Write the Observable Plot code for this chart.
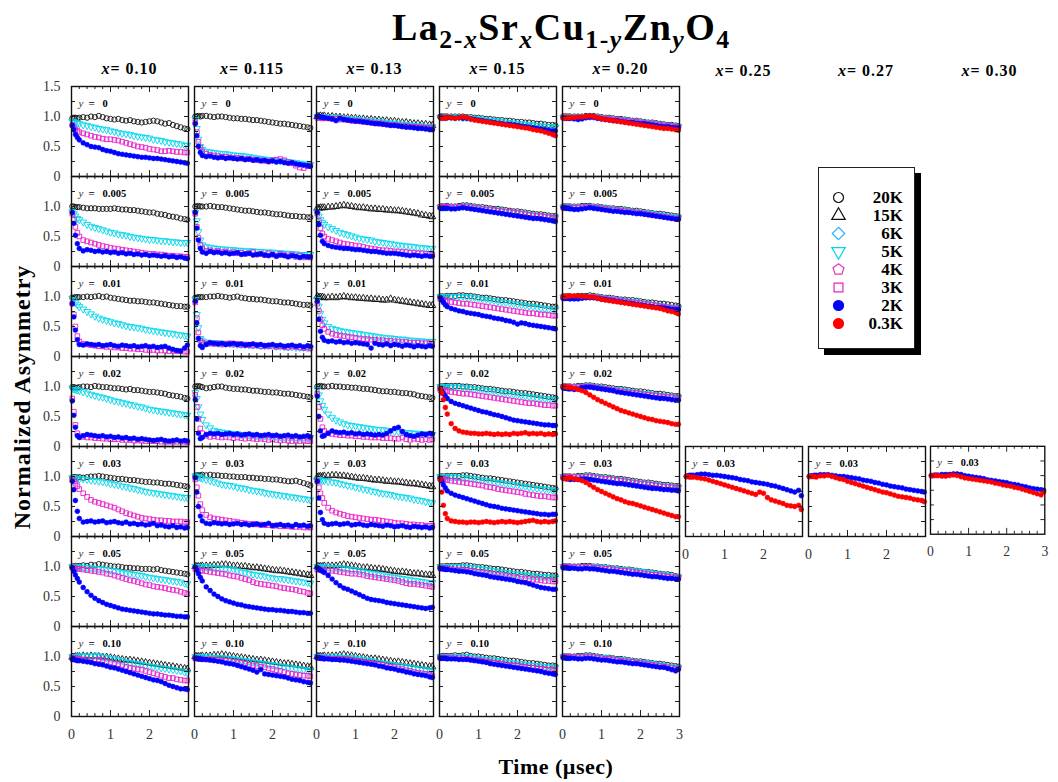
<!DOCTYPE html>
<html><head><meta charset="utf-8">
<script src="https://cdn.jsdelivr.net/npm/d3@7"></script>
<script src="https://cdn.jsdelivr.net/npm/@observablehq/plot@0.6"></script>
<style>
body{margin:0;background:#fff;}
#chart{position:relative;width:1058px;height:782px;overflow:hidden;font-family:"Liberation Serif","Times New Roman",serif;color:#000;background:#fff}
.abs{position:absolute;white-space:nowrap}
.title{font-weight:bold;font-size:38px;letter-spacing:1.5px;line-height:40px}
.title sub{font-size:0.68em;vertical-align:-0.3em;line-height:0}
.colhead{font-weight:bold;font-size:16px;letter-spacing:1px;text-align:center;width:117px;line-height:18px}
.ytitle{font-weight:bold;font-size:24px;letter-spacing:1px;transform:rotate(-90deg);transform-origin:center center;width:300px;text-align:center;line-height:28px}
.xtitle{font-weight:bold;font-size:22px;letter-spacing:0.5px;width:200px;text-align:center;line-height:26px}
.legend{background:#fff;border:1.5px solid #222;box-shadow:6px 6px 0 #000;width:95px;height:180px}
</style></head>
<body><div id="chart"></div>
<script>
// ---------------- data ----------------
const times = [0.02,0.06,0.1,0.15,0.2,0.3,0.4,0.5,0.6,0.7,0.8,0.9,1.0,1.1,1.2,1.3,1.4,1.5,1.6,1.7,1.8,1.9,2.0,2.1,2.2,2.3,2.4,2.5,2.6,2.7,2.8,2.9,2.97];
const temps = ["20K","15K","6K","5K","4K","3K","2K","0.3K"];
const xValues = ["0.10","0.115","0.13","0.15","0.20","0.25","0.27","0.30"];
const yValues = ["0","0.005","0.01","0.02","0.03","0.05","0.10"];
const yTickLabels = [0, 0.5, 1.0, 1.5];
const xTickLabels = [0, 1, 2, 3];
const yTickValues = [0.25, 0.5, 0.75, 1.0, 1.25];
const xMinorTicks = [0.2,0.4,0.6,0.8,1.2,1.4,1.6,1.8,2.2,2.4,2.6,2.8];
const xMajorTicks = [1, 2];

// asymmetry x100, one value per entry of `times`
const x010 = [
 ["0","20K","97 98 98 97 98 99 98 100 99 101 99 | 97 96 95 96 94 93 94 92 91 90 91 | 92 93 92 90 88 89 86 84 82 80 79"],
 ["0","5K","92 91 90 89 88 86 85 83 82 80 79 | 78 76 75 73 72 71 70 68 67 66 65 | 64 62 61 60 58 57 56 55 54 52 52"],
 ["0","3K","86 82 78 76 74 72 70 68 66 65 63 | 62 62 61 60 58 56 54 52 50 49 48 | 46 45 44 42 42 43 42 41 41 40 40"],
 ["0","2K","85 78 70 65 61 56 53 50 49 48 45 | 43 42 40 38 37 36 35 34 33 32 32 | 31 30 30 29 28 27 26 25 24 23 22"],
 ["0.005","20K","100 100 99 99 99 98 97 97 97 96 96 | 96 96 97 96 95 95 94 94 93 92 91 | 90 90 88 87 86 84 83 82 80 79 78"],
 ["0.005","5K","92 88 84 80 78 74 70 67 65 63 61 | 59 57 56 54 53 52 50 49 48 47 46 | 45 45 44 43 43 42 41 41 40 40 40"],
 ["0.005","3K","88 78 66 56 50 44 42 40 38 36 34 | 33 31 30 29 28 27 26 25 24 23 22 | 21 21 20 20 19 18 18 17 17 16 16"],
 ["0.005","2K","90 72 52 38 30 26 28 27 25 26 24 | 25 23 24 22 23 21 22 20 21 19 20 | 18 19 18 17 18 16 17 15 16 14 13"],
 ["0.01","20K","98 98 99 99 99 99 100 99 100 101 99 | 100 98 97 96 95 94 93 93 92 92 91 | 90 90 89 88 87 86 85 84 84 83 83"],
 ["0.01","5K","97 94 90 86 83 79 75 71 67 64 62 | 60 58 56 55 53 51 50 49 48 47 45 | 44 43 42 41 40 39 38 37 36 35 34"],
 ["0.01","3K","88 70 50 34 25 21 20 19 18 17 17 | 16 16 15 15 14 14 13 13 12 12 11 | 10 11 10 10 10 9 10 9 9 8 8"],
 ["0.01","2K","88 66 44 28 20 19 21 20 19 20 18 | 19 20 18 17 19 18 17 18 16 17 18 | 16 17 15 16 17 14 12 10 9 14 19"],
 ["0.02","20K","99 99 98 98 99 100 100 99 101 100 99 | 99 98 97 97 96 95 96 94 94 93 92 | 91 91 90 89 88 86 85 84 83 81 80"],
 ["0.02","5K","97 96 95 94 93 91 89 87 85 83 82 | 80 78 76 75 73 72 70 69 67 66 64 | 62 61 60 59 58 57 56 55 54 53 52"],
 ["0.02","3K","80 58 36 22 17 16 15 15 14 14 13 | 13 12 12 12 11 11 11 10 10 10 9 | 9 9 9 8 8 8 8 8 8 8 7"],
 ["0.02","2K","76 52 32 18 15 18 20 19 18 17 18 | 16 17 15 16 14 15 13 14 12 13 12 | 11 10 11 12 10 9 10 11 9 10 9"],
 ["0.03","20K","98 99 99 98 99 98 99 100 100 101 100 | 99 98 97 96 96 95 94 94 93 92 91 | 91 90 90 89 88 88 87 86 85 84 83"],
 ["0.03","5K","98 98 97 97 96 96 95 94 93 92 91 | 90 88 87 86 84 83 81 80 78 77 75 | 74 73 72 71 70 69 68 67 66 65 65"],
 ["0.03","3K","95 92 88 84 79 72 66 61 58 56 54 | 52 50 48 45 42 39 37 35 33 31 30 | 29 28 27 27 26 26 25 25 25 24 24"],
 ["0.03","2K","92 78 60 42 30 24 25 26 24 25 26 | 23 24 25 23 22 24 21 22 20 21 19 | 20 22 18 19 17 16 18 15 16 14 15"],
 ["0.05","20K","100 100 101 100 101 102 101 103 102 104 103 | 102 101 100 100 99 98 98 97 97 96 96 | 96 95 96 94 93 92 91 90 89 88 87"],
 ["0.05","5K","100 100 100 99 99 99 98 98 97 96 96 | 95 94 93 92 90 89 88 87 86 85 83 | 82 81 80 79 78 77 76 75 74 72 71"],
 ["0.05","3K","98 98 97 96 96 95 94 93 92 91 90 | 88 87 85 83 81 79 77 76 74 72 70 | 69 67 66 65 64 62 61 60 58 56 54"],
 ["0.05","2K","98 92 86 80 74 65 58 52 47 43 40 | 37 35 33 31 29 28 27 26 25 24 23 | 22 21 21 20 19 19 18 17 17 16 16"],
 ["0.10","15K","99 99 100 100 100 101 100 101 100 100 99 | 99 98 97 96 95 94 94 93 92 91 90 | 89 88 87 86 85 84 83 82 81 80 79"],
 ["0.10","5K","100 100 100 100 101 101 100 101 102 101 99 | 98 97 96 94 93 91 90 89 88 87 85 | 84 83 82 81 80 79 78 77 76 74 73"],
 ["0.10","3K","98 97 97 96 96 95 94 93 94 95 94 | 91 90 88 87 86 83 81 80 79 78 76 | 74 72 70 68 66 64 64 62 61 60 60"],
 ["0.10","2K","95 95 94 93 93 92 91 90 88 87 86 | 84 82 81 79 77 75 73 71 69 67 65 | 63 61 60 58 55 52 50 48 46 46 45"]
];
const x0115 = [
 ["0","20K","100 100 101 100 101 101 100 99 100 100 99 | 98 97 97 96 96 95 94 94 93 92 91 | 90 89 88 88 87 86 85 84 83 82 81"],
 ["0","5K","95 80 62 50 45 42 41 40 39 38 38 | 37 36 35 35 34 33 32 31 30 29 28 | 28 27 26 26 25 24 23 22 21 20 20"],
 ["0","3K","90 74 58 48 42 38 36 35 34 33 33 | 32 31 31 30 29 29 28 27 27 26 25 | 27 28 29 27 24 22 18 15 14 17 18"],
 ["0","2K","88 68 50 40 35 33 34 32 31 32 30 | 31 30 29 30 28 29 27 28 26 27 25 | 26 24 25 23 22 23 21 20 19 18 17"],
 ["0.005","20K","100 100 101 100 100 100 101 100 99 99 98 | 97 96 95 94 93 93 92 91 90 90 89 | 88 87 87 86 85 84 84 83 83 82 82"],
 ["0.005","5K","90 76 58 44 36 33 32 31 30 29 29 | 28 28 27 27 26 26 26 25 25 24 24 | 24 23 23 22 22 21 21 20 20 20 20"],
 ["0.005","3K","88 66 48 36 30 26 27 25 26 24 25 | 23 24 22 23 21 22 24 20 21 19 22 | 20 18 21 19 17 20 16 18 15 16 15"],
 ["0.005","2K","90 64 44 30 24 22 25 23 24 22 23 | 21 22 23 20 21 22 19 20 21 19 18 | 20 17 19 18 16 18 17 15 17 16 16"],
 ["0.01","20K","98 98 99 99 99 99 100 100 101 100 99 | 98 99 100 98 97 96 96 95 95 94 93 | 92 92 91 90 90 89 88 87 86 86 85"],
 ["0.01","5K","95 70 48 30 26 24 23 23 22 22 22 | 21 21 20 20 20 19 19 19 18 18 18 | 17 17 17 16 16 16 15 15 15 14 14"],
 ["0.01","3K","90 64 40 27 23 21 22 21 22 20 21 | 22 20 21 19 20 19 18 19 17 18 17 | 18 16 17 16 15 17 16 15 14 15 14"],
 ["0.01","2K","92 56 30 18 15 20 23 22 21 22 20 | 21 22 20 21 19 20 21 19 20 18 19 | 20 18 19 17 18 19 17 18 16 18 17"],
 ["0.02","20K","100 100 101 100 99 97 98 99 100 100 98 | 97 96 96 95 95 94 93 93 92 91 91 | 90 90 89 88 88 87 86 85 84 83 82"],
 ["0.02","5K","90 80 66 54 45 36 31 27 25 24 23 | 22 21 21 20 20 19 19 18 18 18 17 | 17 17 16 16 16 16 15 15 15 15 15"],
 ["0.02","3K","86 66 46 30 22 18 16 17 16 15 16 | 15 14 15 14 13 14 13 12 13 12 11 | 12 11 10 11 10 9 10 9 10 9 9"],
 ["0.02","2K","78 46 22 13 15 20 22 21 22 20 21 | 22 20 21 19 20 21 19 20 18 19 20 | 18 19 17 18 19 17 18 16 17 18 16"],
 ["0.03","20K","101 102 102 102 103 102 103 102 102 101 101 | 100 100 99 99 99 98 98 97 97 96 96 | 95 95 94 93 92 92 93 91 89 87 85"],
 ["0.03","5K","101 100 99 98 97 95 93 91 89 87 86 | 85 84 82 81 80 78 77 76 75 73 72 | 71 70 69 68 67 66 65 64 63 62 61"],
 ["0.03","3K","95 82 68 54 44 36 32 30 29 28 27 | 26 25 24 23 22 21 21 20 20 19 19 | 18 18 17 17 17 16 16 16 15 15 15"],
 ["0.03","2K","98 74 50 34 26 22 21 23 22 21 22 | 20 21 22 20 21 19 20 21 19 20 22 | 18 19 20 18 19 17 20 18 19 17 18"],
 ["0.05","15K","100 100 100 100 101 101 101 102 102 103 103 | 102 101 101 100 100 99 98 98 97 96 95 | 94 93 93 92 91 90 89 88 87 86 85"],
 ["0.05","5K","100 100 100 100 100 99 99 98 98 97 96 | 96 95 93 91 90 88 87 86 85 84 82 | 81 80 80 79 78 77 76 75 74 73 72"],
 ["0.05","3K","96 95 94 93 93 92 91 90 89 88 87 | 85 84 83 81 79 77 74 72 71 70 69 | 68 67 65 64 63 62 61 59 58 56 55"],
 ["0.05","2K","99 94 88 82 76 66 60 54 50 46 43 | 41 39 37 36 34 33 32 31 30 29 28 | 28 27 27 26 25 25 24 23 23 22 22"],
 ["0.10","15K","100 100 100 100 101 101 101 102 102 103 102 | 101 100 99 98 97 96 95 94 94 93 92 | 91 90 89 88 88 87 86 85 84 83 82"],
 ["0.10","5K","100 100 100 100 100 99 99 98 98 98 97 | 97 96 95 94 93 92 91 90 89 88 87 | 86 85 84 83 82 81 80 79 78 77 76"],
 ["0.10","3K","97 97 96 96 96 95 95 94 94 93 93 | 92 91 90 89 88 86 85 84 83 82 80 | 79 77 76 74 72 71 70 69 68 68 67"],
 ["0.10","2K","97 97 96 96 95 95 94 93 92 91 89 | 88 87 85 83 81 79 77 74 78 71 70 | 69 68 67 66 64 62 61 60 58 57 56"]
];
const x013 = [
 ["0","15K","100 100 101 100 101 100 100 99 99 98 98 | 97 97 96 96 95 95 94 94 93 93 92 | 92 91 90 90 89 88 88 87 87 86 85"],
 ["0","5K","100 100 100 100 99 99 98 98 97 97 96 | 96 95 95 94 93 93 92 91 91 90 89 | 89 88 87 87 86 85 85 84 84 83 83"],
 ["0","3K","98 98 98 97 97 97 96 96 95 95 94 | 93 93 92 91 91 90 89 88 88 87 86 | 86 85 84 84 83 83 82 82 81 81 81"],
 ["0","2K","100 100 99 99 98 97 96 93 97 95 94 | 93 92 92 91 90 89 88 88 87 86 85 | 85 84 83 82 82 81 80 80 79 78 78"],
 ["0.005","15K","97 97 98 98 98 99 99 100 101 102 101 | 100 99 98 98 97 96 96 95 95 94 94 | 93 93 92 91 90 89 88 86 85 84 83"],
 ["0.005","5K","90 84 78 73 70 66 63 60 57 55 53 | 51 49 47 46 45 44 42 41 40 39 38 | 37 36 35 34 34 33 32 31 31 30 30"],
 ["0.005","3K","88 76 64 55 50 46 44 42 40 38 37 | 36 35 34 33 31 30 29 28 27 27 26 | 25 25 24 24 23 23 22 22 21 21 20"],
 ["0.005","2K","90 70 52 42 38 35 33 32 31 30 30 | 29 28 28 27 26 25 25 24 23 22 22 | 22 21 20 19 18 19 18 17 18 17 17"],
 ["0.01","15K","100 99 99 99 98 98 99 98 99 100 99 | 98 98 97 97 96 96 95 95 94 94 96 | 94 93 92 91 90 89 88 87 86 85 85"],
 ["0.01","5K","95 84 72 62 56 50 47 45 43 42 41 | 40 39 38 37 36 35 34 33 32 31 31 | 30 29 29 28 27 27 26 26 25 25 25"],
 ["0.01","3K","88 76 62 52 46 41 38 36 35 34 33 | 32 31 30 29 29 28 28 27 27 26 26 | 25 25 24 24 23 23 23 22 22 22 21"],
 ["0.01","2K","92 62 42 32 27 25 26 24 25 23 24 | 22 23 22 21 20 14 22 20 19 21 18 | 20 19 17 19 18 16 18 17 16 18 17"],
 ["0.02","20K","100 100 101 100 100 100 101 100 100 99 99 | 98 98 97 96 96 95 94 93 92 92 91 | 91 90 89 89 88 87 85 84 83 82 81"],
 ["0.02","5K","95 86 76 68 62 54 48 44 41 38 36 | 35 34 33 32 31 30 29 28 28 27 26 | 25 25 24 23 23 22 22 21 21 20 20"],
 ["0.02","3K","88 66 46 32 26 22 21 20 19 19 18 | 18 17 17 16 16 15 15 15 14 14 14 | 13 13 15 12 11 13 12 11 12 11 12"],
 ["0.02","2K","84 50 26 17 18 22 26 24 23 24 22 | 23 21 22 20 21 20 19 20 19 22 26 | 30 32 25 20 18 17 19 21 20 22 21"],
 ["0.03","15K","99 100 100 100 101 101 102 102 101 101 100 | 99 98 97 97 96 95 94 94 93 92 92 | 91 91 90 89 88 88 87 86 85 84 83"],
 ["0.03","5K","96 95 94 93 93 92 91 90 88 87 85 | 84 82 81 79 78 76 75 73 72 71 70 | 68 67 66 65 64 62 61 60 58 57 56"],
 ["0.03","3K","92 82 72 64 56 48 43 40 38 36 34 | 33 32 31 30 29 28 28 27 26 25 24 | 23 22 22 21 20 20 19 19 18 18 18"],
 ["0.03","2K","92 64 40 28 22 20 21 22 20 21 22 | 19 20 21 19 18 20 19 18 17 19 18 | 16 17 18 16 15 17 16 15 16 14 15"],
 ["0.05","15K","100 100 100 100 101 101 101 101 102 103 102 | 101 100 99 98 98 97 96 96 95 94 93 | 92 91 91 90 89 88 88 87 86 86 85"],
 ["0.05","5K","100 100 100 99 99 99 98 98 98 97 96 | 95 94 93 92 90 89 88 87 86 84 83 | 82 81 80 79 78 77 76 75 74 73 73"],
 ["0.05","3K","95 95 94 94 94 93 93 92 91 90 89 | 88 88 87 86 84 83 82 81 80 79 78 | 77 76 74 72 71 71 70 69 68 67 66"],
 ["0.05","2K","98 96 94 92 90 85 79 73 68 64 62 | 59 56 53 50 47 45 44 43 42 40 39 | 38 37 36 35 34 33 32 31 30 31 32"],
 ["0.10","15K","100 100 100 100 101 101 101 101 102 103 102 | 101 100 99 98 97 96 96 95 94 93 92 | 91 91 90 89 88 87 86 85 84 83 83"],
 ["0.10","5K","100 100 100 100 99 99 99 99 99 98 98 | 98 97 96 95 94 93 92 90 89 88 87 | 86 85 84 83 82 81 80 79 78 77 76"],
 ["0.10","3K","98 98 98 97 97 97 96 96 96 95 95 | 94 93 92 91 90 89 88 87 86 84 83 | 82 80 79 77 76 74 73 72 71 70 68"],
 ["0.10","2K","98 98 97 97 96 96 95 95 94 94 93 | 92 91 90 89 88 87 86 84 83 81 80 | 79 77 76 74 73 71 70 69 68 66 65"]
];
const x015 = [
 ["0","20K","100 100 100 100 100 100 100 100 100 99 99 | 98 98 97 96 96 95 94 94 93 93 92 | 91 91 90 90 89 88 88 87 86 86 85"],
 ["0","5K","99 99 99 99 99 99 99 99 98 98 97 | 97 96 95 94 94 93 92 92 91 90 89 | 88 88 87 86 86 85 84 84 83 83 82"],
 ["0","2K","99 99 98 98 98 98 97 98 97 97 96 | 95 94 93 92 91 90 89 88 87 87 86 | 85 84 83 82 81 80 79 78 77 76 76"],
 ["0","0.3K","98 97 98 97 99 98 97 98 99 98 96 | 94 93 92 91 90 89 88 87 86 85 84 | 83 82 81 80 78 77 76 74 72 70 68"],
 ["0.005","20K","100 100 100 100 101 100 100 101 102 102 101 | 100 99 99 98 97 96 96 95 94 93 92 | 92 91 90 89 88 87 87 86 85 84 84"],
 ["0.005","5K","99 99 99 99 99 99 100 100 100 101 100 | 99 98 97 96 95 95 94 93 92 91 90 | 90 89 88 87 86 85 84 84 83 82 82"],
 ["0.005","3K","99 99 99 99 99 99 99 99 100 100 99 | 98 97 96 95 95 94 93 92 91 91 90 | 89 88 87 86 85 84 84 83 82 81 81"],
 ["0.005","2K","97 97 97 97 97 96 96 97 98 97 96 | 95 94 93 92 91 90 89 88 87 86 85 | 84 83 82 81 80 80 79 78 77 76 75"],
 ["0.01","20K","100 100 100 100 101 101 101 102 102 101 101 | 100 99 98 98 97 96 95 94 94 93 92 | 91 90 89 88 88 87 86 85 84 83 83"],
 ["0.01","5K","100 100 100 100 100 100 100 100 100 99 99 | 98 97 96 95 94 93 92 91 90 89 88 | 87 86 85 84 83 82 81 80 79 78 78"],
 ["0.01","3K","96 95 94 93 92 91 90 89 88 88 87 | 86 85 84 83 82 81 80 79 78 77 76 | 75 74 73 72 72 71 70 70 69 68 68"],
 ["0.01","2K","98 94 90 86 83 80 78 76 75 73 72 | 71 70 68 67 66 64 63 62 60 59 57 | 54 56 55 53 52 51 50 49 48 47 46"],
 ["0.02","20K","100 100 100 101 101 101 101 101 100 100 99 | 99 98 97 96 96 95 94 93 92 92 91 | 90 89 89 88 87 86 85 84 83 82 81"],
 ["0.02","5K","100 100 100 100 100 99 99 99 98 98 97 | 96 95 95 94 93 92 91 90 89 88 87 | 86 85 84 83 82 81 81 80 79 78 78"],
 ["0.02","3K","94 94 93 93 92 91 90 89 88 88 87 | 86 85 84 83 82 81 80 79 78 77 76 | 75 74 73 72 72 71 70 69 69 68 68"],
 ["0.02","2K","96 92 88 84 80 75 72 70 68 66 64 | 62 60 58 57 55 53 52 50 48 46 44 | 43 42 41 40 39 38 37 36 36 35 35"],
 ["0.02","0.3K","96 89 78 65 54 38 30 26 24 23 22 | 22 21 21 22 21 20 21 20 21 20 22 | 21 22 23 21 22 21 22 20 21 20 21"],
 ["0.03","20K","100 100 100 100 101 101 101 101 102 102 101 | 100 99 98 97 97 96 95 94 93 92 91 | 90 89 88 87 86 85 84 83 82 81 80"],
 ["0.03","5K","100 100 100 100 100 99 99 99 98 98 97 | 96 95 94 93 92 91 90 89 88 87 86 | 85 84 83 82 81 80 79 79 78 77 77"],
 ["0.03","3K","96 96 95 95 94 93 92 91 90 89 88 | 87 86 85 83 82 81 79 78 77 76 75 | 74 73 71 70 69 68 67 67 66 65 65"],
 ["0.03","2K","97 92 86 81 76 72 69 67 65 63 61 | 59 57 55 53 51 50 49 47 46 45 44 | 43 42 41 40 39 38 37 37 36 37 37"],
 ["0.03","0.3K","95 74 52 38 30 26 25 24 24 23 24 | 24 23 24 25 24 23 24 25 24 25 24 | 23 24 25 26 27 25 24 25 24 25 26"],
 ["0.05","20K","100 100 100 100 101 101 101 101 102 102 101 | 100 99 99 98 97 96 96 95 94 93 92 | 91 91 90 89 88 88 87 86 86 85 85"],
 ["0.05","5K","100 100 100 100 100 100 100 100 100 99 98 | 98 97 96 95 94 93 92 91 90 89 88 | 87 86 86 85 84 84 83 83 82 82 81"],
 ["0.05","3K","97 97 97 97 96 96 95 95 95 94 93 | 92 91 90 89 88 87 86 85 84 83 82 | 81 80 80 79 78 78 77 76 76 75 75"],
 ["0.05","2K","97 96 96 95 95 94 93 92 92 91 90 | 88 87 86 85 83 82 81 80 79 78 77 | 75 74 73 71 69 67 65 64 63 62 62"],
 ["0.10","20K","100 100 101 100 101 101 102 101 102 103 101 | 100 100 99 98 97 97 96 95 94 93 93 | 92 91 90 89 89 88 87 86 85 85 84"],
 ["0.10","5K","100 100 100 100 100 100 100 100 100 100 99 | 98 97 96 95 95 94 93 92 91 90 89 | 88 88 87 86 85 85 84 83 83 82 82"],
 ["0.10","3K","98 98 98 98 98 98 97 97 97 96 95 | 94 94 93 92 91 90 89 88 87 86 85 | 85 84 83 82 81 80 80 79 78 78 77"],
 ["0.10","2K","97 97 97 97 96 96 96 95 95 95 94 | 93 92 91 90 88 87 86 85 84 83 82 | 81 80 79 78 77 76 75 73 72 71 70"]
];
const x020 = [
 ["0","20K","100 100 100 100 100 100 100 100 101 101 101 | 100 99 98 98 97 96 96 95 94 93 93 | 92 91 90 90 89 88 87 86 86 85 84"],
 ["0","5K","99 99 99 99 99 99 99 99 100 100 100 | 99 98 97 97 96 95 95 94 93 92 92 | 91 90 89 89 88 87 86 85 85 84 83"],
 ["0","3K","98 98 98 98 98 98 98 98 99 99 99 | 98 97 97 96 95 95 94 93 92 92 91 | 90 89 88 88 87 86 85 85 84 83 83"],
 ["0","2K","98 98 97 97 97 96 95 96 98 99 99 | 97 96 95 94 93 93 92 91 90 90 89 | 88 88 87 86 85 84 83 83 82 81 81"],
 ["0","0.3K","98 98 97 98 98 98 99 99 100 101 100 | 98 96 95 94 93 92 91 90 89 88 87 | 86 85 84 83 82 81 80 80 79 78 77"],
 ["0.005","20K","100 100 100 100 100 100 100 101 101 101 100 | 100 99 98 97 97 96 96 95 94 93 93 | 92 91 90 89 88 88 87 86 85 84 83"],
 ["0.005","5K","99 99 99 99 99 99 99 100 100 100 99 | 99 98 97 97 96 95 94 94 93 92 91 | 90 90 89 88 87 86 85 84 83 83 82"],
 ["0.005","3K","98 98 98 98 98 98 98 99 99 99 98 | 98 97 96 95 95 94 93 92 92 91 90 | 89 88 87 86 85 84 83 82 81 80 80"],
 ["0.005","2K","98 98 97 97 96 95 95 96 97 98 97 | 96 95 94 93 92 92 91 90 90 89 88 | 88 87 86 85 84 83 82 81 80 79 79"],
 ["0.01","20K","100 100 100 100 100 100 101 101 101 102 101 | 100 99 98 98 97 96 95 95 94 94 93 | 92 91 90 90 89 88 88 87 86 85 84"],
 ["0.01","5K","99 99 99 99 99 99 99 100 100 100 100 | 99 98 97 96 96 95 94 93 92 92 91 | 90 89 88 87 86 85 84 83 82 81 81"],
 ["0.01","3K","98 98 98 98 98 98 98 99 99 99 99 | 98 97 96 95 95 94 93 92 91 90 89 | 89 88 87 86 85 84 83 82 81 80 80"],
 ["0.01","2K","97 97 97 97 96 96 96 97 98 98 98 | 97 96 95 94 93 92 91 90 89 88 87 | 86 85 84 83 82 82 81 80 79 78 78"],
 ["0.01","0.3K","100 100 100 101 101 101 101 100 100 99 99 | 97 95 94 93 92 91 90 89 88 87 86 | 85 84 83 82 81 80 78 76 75 73 71"],
 ["0.02","20K","100 100 100 100 100 100 101 101 102 102 101 | 100 100 99 98 97 96 96 95 94 93 92 | 92 91 90 89 88 88 87 86 85 84 84"],
 ["0.02","5K","100 100 100 100 100 100 100 100 101 101 100 | 99 98 97 96 95 95 94 93 92 91 90 | 89 88 88 87 86 85 84 84 83 82 82"],
 ["0.02","3K","99 99 99 99 99 99 99 99 100 100 99 | 98 97 96 95 94 93 92 91 90 90 89 | 88 87 86 85 85 84 83 82 82 81 81"],
 ["0.02","2K","98 97 97 96 96 95 96 98 99 99 98 | 97 96 95 94 93 91 90 89 88 87 86 | 85 84 83 82 81 80 80 79 78 77 77"],
 ["0.02","0.3K","100 100 99 99 98 97 95 93 90 86 82 | 78 75 72 69 66 63 60 58 56 54 52 | 50 48 46 45 43 42 41 40 38 37 37"],
 ["0.03","20K","100 100 100 100 100 100 101 101 102 102 101 | 100 99 99 98 97 96 96 95 94 93 92 | 91 90 90 89 88 87 86 86 85 84 84"],
 ["0.03","5K","100 100 100 100 100 100 100 100 101 101 100 | 99 98 97 97 96 95 94 93 92 91 90 | 89 89 88 87 86 85 84 84 83 82 82"],
 ["0.03","3K","99 99 99 99 99 99 99 99 100 100 99 | 98 97 96 96 95 94 93 92 91 90 89 | 88 88 87 86 85 84 83 83 82 81 81"],
 ["0.03","2K","97 97 96 96 95 95 95 96 96 95 94 | 93 92 91 90 89 88 88 87 86 85 84 | 83 82 81 80 80 79 78 78 77 77 76"],
 ["0.03","0.3K","97 97 96 97 98 96 95 93 90 86 82 | 78 75 72 69 66 63 61 58 56 55 53 | 51 49 47 45 43 41 39 37 35 33 33"],
 ["0.05","20K","100 100 100 100 100 100 100 101 101 101 100 | 100 99 99 98 97 97 96 95 95 94 93 | 92 91 91 90 89 88 87 87 86 84 83"],
 ["0.05","5K","100 100 100 100 100 100 100 100 100 100 100 | 99 99 98 97 97 96 95 95 94 93 92 | 92 91 90 89 88 87 86 85 84 83 83"],
 ["0.05","3K","99 99 99 99 99 99 99 99 99 99 98 | 98 97 96 96 95 94 93 93 92 91 90 | 89 88 87 86 86 85 84 83 82 82 81"],
 ["0.05","2K","98 98 98 97 97 97 96 96 97 96 96 | 95 94 93 92 92 91 90 89 88 87 87 | 86 85 84 83 83 82 81 80 80 79 79"],
 ["0.10","20K","100 100 100 100 100 100 101 101 102 102 101 | 100 99 98 98 97 96 96 95 94 93 92 | 92 91 90 89 88 88 87 86 85 84 83"],
 ["0.10","5K","100 100 100 100 100 100 100 100 101 101 100 | 99 98 98 97 96 95 95 94 93 92 91 | 90 90 89 88 87 86 85 84 83 82 82"],
 ["0.10","3K","99 99 99 99 99 99 99 99 100 100 99 | 98 97 96 96 95 94 93 92 91 91 90 | 89 88 87 86 85 84 83 82 81 80 80"],
 ["0.10","2K","98 98 97 97 97 97 96 96 97 97 96 | 95 94 94 93 92 91 91 90 89 88 88 | 87 86 85 84 83 82 82 80 78 76 79"]
];
const x025 = [
 ["0.03","2K","100 101 102 102 102 103 104 104 103 102 102 | 101 100 99 98 97 95 94 93 91 90 89 | 88 87 85 84 82 80 78 76 74 77 68"],
 ["0.03","0.3K","100 100 99 99 99 98 97 96 94 92 90 | 88 86 84 82 80 78 76 74 72 70 74 | 72 65 61 59 57 55 52 51 50 52 45"]
];
const x027 = [
 ["0.03","2K","100 101 101 102 102 103 103 103 102 101 100 | 100 99 98 97 96 94 93 92 90 89 87 | 86 84 83 82 81 79 78 77 76 75 74"],
 ["0.03","0.3K","100 100 100 100 99 101 101 102 100 98 96 | 95 92 90 88 86 84 82 80 78 76 74 | 73 71 69 67 66 65 64 62 61 60 58"]
];
const x030 = [
 ["0.03","2K","100 100 101 101 101 102 102 102 103 103 102 | 100 99 98 97 96 95 93 92 91 90 89 | 88 86 85 84 82 81 79 78 77 76 75"],
 ["0.03","0.3K","100 100 100 100 100 99 99 100 101 100 98 | 96 95 94 93 92 91 90 89 87 86 84 | 83 82 80 79 77 75 73 71 69 67 72"]
];
const columnSeries = [x010, x0115, x013, x015, x020, x025, x027, x030];

// ---------------- styles / layout ----------------
const SQ3 = Math.sqrt(3);
const triangleDown = {draw(ctx, size){ const y = Math.sqrt(size / (SQ3 * 3)); ctx.moveTo(0, 2*y); ctx.lineTo(-SQ3*y, -y); ctx.lineTo(SQ3*y, -y); ctx.closePath(); }};
const pentagon = {draw(ctx, size){ const r = Math.sqrt(size / 2.3776); for (let i = 0; i < 5; i++){ const a = -Math.PI/2 + i*2*Math.PI/5; const px = r*Math.cos(a), py = r*Math.sin(a); if (i) ctx.lineTo(px, py); else ctx.moveTo(px, py); } ctx.closePath(); }};
const diamondSym = {draw(ctx, size){ const r = Math.sqrt(size / 2); ctx.moveTo(0, -r); ctx.lineTo(r, 0); ctx.lineTo(0, r); ctx.lineTo(-r, 0); ctx.closePath(); }};
const tempStyle = {
  "20K": {symbol: "circle", color: "#111", filled: false},
  "15K": {symbol: "triangle", color: "#111", filled: false},
  "6K": {symbol: diamondSym, color: "#2ab4ff", filled: false},
  "5K": {symbol: triangleDown, color: "#00d6ec", filled: false},
  "4K": {symbol: pentagon, color: "#e03cb0", filled: false},
  "3K": {symbol: "square", color: "#ea1ec8", filled: false},
  "2K": {symbol: "circle", color: "#0000ff", filled: true},
  "0.3K": {symbol: "circle", color: "#ff0000", filled: true}
};
const colLeft = [71, 193.5, 316, 439, 562, 685, 807.5, 931];
const rowTop0 = 86, PW = 117, PH = 90;
const ML = 44, MR = 14, MT = 8, MB = 30;
const FONT = '"Liberation Serif","Times New Roman",serif';

const chart = document.getElementById("chart");
function addDiv(cls, html, left, top) {
  const d = document.createElement("div");
  d.className = "abs " + cls; d.innerHTML = html;
  d.style.left = left + "px"; d.style.top = top + "px";
  chart.appendChild(d); return d;
}

// title & headers
addDiv("title", "La<sub>2-<i>x</i></sub>Sr<sub><i>x</i></sub>Cu<sub>1-<i>y</i></sub>Zn<sub><i>y</i></sub>O<sub>4</sub>", 392, 7);
xValues.forEach((xv, i) => addDiv("colhead", `<i>x</i>= ${xv}`, colLeft[i], i < 5 ? 60 : 62));
addDiv("ytitle", "Normalized Asymmetry", 22 - 150, 397 - 14);
addDiv("xtitle", "Time (µsec)", 556 - 100, 754);

function parseVals(s) { return s.split(/[\s|]+/).filter(Boolean).map(Number); }

function makePanel(ci, yv, series) {
  const ri = yValues.indexOf(yv);
  const rows = [];
  for (const [y, T, s] of series) {
    if (y !== yv) continue;
    parseVals(s).forEach((v, i) => { if (i < times.length) rows.push({t: times[i], a: v / 100, T}); });
  }
  const marks = [];
  for (const T of temps) {
    const d = rows.filter(r => r.T === T);
    if (!d.length) continue;
    const st = tempStyle[T];
    marks.push(Plot.dot(d, {x: "t", y: "a", symbol: st.symbol, r: st.filled ? 2.4 : 2.6,
      stroke: st.color, strokeWidth: st.filled ? 0.6 : 0.9, fill: st.filled ? st.color : "none"}));
  }
  // inward ticks
  marks.push(Plot.tickY(yTickValues, {y: d => d, insetRight: PW - 4, stroke: "#222"}));
  marks.push(Plot.tickY(yTickValues, {y: d => d, insetLeft: PW - 4, stroke: "#222"}));
  marks.push(Plot.tickX(xMinorTicks, {x: d => d, insetTop: PH - 3, stroke: "#222"}));
  marks.push(Plot.tickX(xMajorTicks, {x: d => d, insetTop: PH - 6, stroke: "#222"}));
  marks.push(Plot.tickX(xMinorTicks, {x: d => d, insetBottom: PH - 3, stroke: "#222"}));
  marks.push(Plot.tickX(xMajorTicks, {x: d => d, insetBottom: PH - 6, stroke: "#222"}));
  marks.push(Plot.frame({stroke: "#111", strokeWidth: 1.4}));
  // panel label
  marks.push(Plot.text(["y"], {frameAnchor: "top-left", dx: 7, dy: 17, fontStyle: "italic", fontSize: 11, fill: "#333", textAnchor: "start", lineAnchor: "middle"}));
  marks.push(Plot.text(["="], {frameAnchor: "top-left", dx: 17, dy: 17, fontWeight: "bold", fontSize: 11, textAnchor: "start", lineAnchor: "middle"}));
  marks.push(Plot.text([yv], {frameAnchor: "top-left", dx: 31, dy: 17, fontWeight: "bold", fontSize: 10.5, textAnchor: "start", lineAnchor: "middle", ariaLabel: "ylab"}));
  // y tick labels on first column
  if (ci === 0) {
    const lab = ri === 0 ? yTickLabels : yTickLabels.filter(v => v < 1.5);
    marks.push(Plot.text(lab, {y: d => d, text: d => d === 0 ? "0" : d.toFixed(1), frameAnchor: "left", dx: -11, textAnchor: "end", lineAnchor: "middle", fontSize: 14, fill: "#333"}));
  }
  const bottom = (ci < 5 && ri === 6) || ci >= 5;
  if (bottom) {
    const lab = (ci === 4 || ci === 7) ? xTickLabels : xTickLabels.filter(v => v < 3);
    marks.push(Plot.text(lab, {x: d => d, text: d => String(d), frameAnchor: "bottom", dy: 18, lineAnchor: "middle", fontSize: 14, fill: "#333"}));
  }
  const svg = Plot.plot({
    width: PW + ML + MR, height: PH + MT + MB,
    marginLeft: ML, marginRight: MR, marginTop: MT, marginBottom: MB,
    x: {domain: [0, 3], axis: null},
    y: {domain: [0, 1.5], axis: null},
    style: {background: "transparent", overflow: "visible", fontFamily: FONT},
    marks
  });
  d3.select(svg).selectAll('g[aria-label="ylab"] text').attr("letter-spacing", "1.5");
  const holder = document.createElement("div");
  holder.className = "abs";
  holder.style.left = (colLeft[ci] - ML) + "px";
  holder.style.top = (rowTop0 + PH * ri - MT) + "px";
  holder.appendChild(svg);
  chart.appendChild(holder);
}

columnSeries.forEach((series, ci) => {
  const ys = ci < 5 ? yValues : ["0.03"];
  ys.forEach(yv => makePanel(ci, yv, series));
});

// legend
const legendBox = addDiv("legend", "", 818, 167);
const legendPlot = Plot.plot({
  width: 95, height: 180, margin: 0,
  x: {domain: [0, 1], range: [0, 95], axis: null},
  y: {type: "point", domain: temps, range: [17, 166], axis: null},
  style: {background: "transparent", fontFamily: FONT},
  marks: [
    ...temps.map(T => Plot.dot([T], {x: () => 0.2, y: d => d, symbol: tempStyle[T].symbol, r: 5,
      stroke: tempStyle[T].color, strokeWidth: 1.2, fill: tempStyle[T].filled ? tempStyle[T].color : "none"})),
    Plot.text(temps, {x: () => 0.88, y: d => d, text: d => d, textAnchor: "end", lineAnchor: "middle", fontSize: 17, fontWeight: "bold", ariaLabel: "legtext"})
  ]
});
d3.select(legendPlot).selectAll('g[aria-label="legtext"] text').attr("letter-spacing", "2");
legendBox.appendChild(legendPlot);
</script>
</body></html>
